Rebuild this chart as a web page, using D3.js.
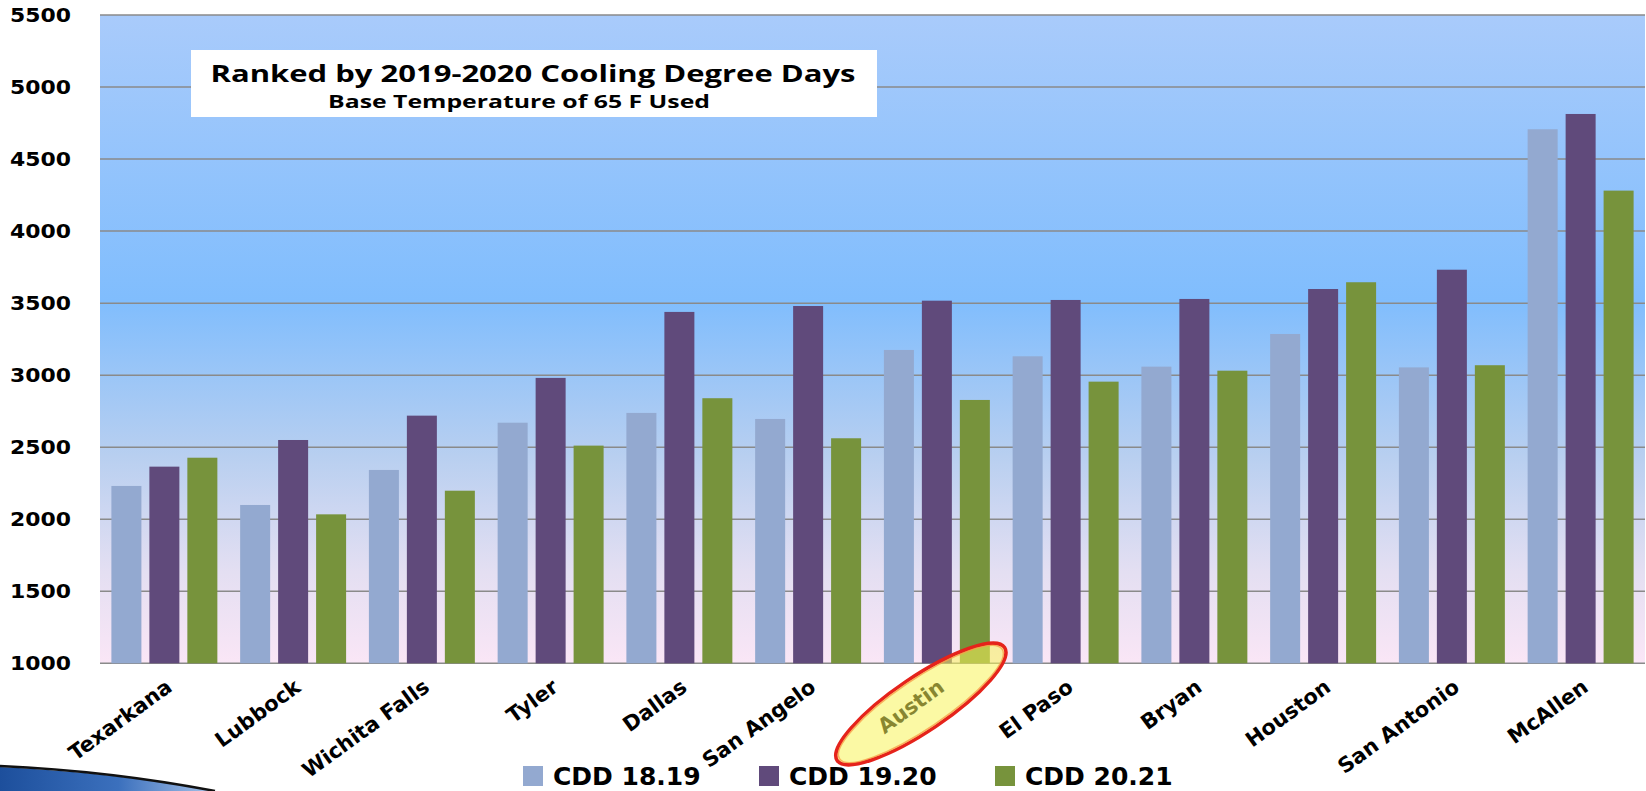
<!DOCTYPE html>
<html>
<head>
<meta charset="utf-8">
<script src="https://cdn.jsdelivr.net/npm/d3@7"></script>
<style>
  html, body { margin: 0; padding: 0; background: #ffffff; }
  svg { display: block; }
</style>
</head>
<body>
<svg id="chart" width="1646" height="791"></svg>
<script>
// ---- data ----
const categories = ["Texarkana", "Lubbock", "Wichita Falls", "Tyler", "Dallas", "San Angelo",
                    "Austin", "El Paso", "Bryan", "Houston", "San Antonio", "McAllen"];
const seriesNames = ["CDD 18.19", "CDD 19.20", "CDD 20.21"];
const cdd1819 = [2231, 2099, 2342, 2670, 2738, 2696, 3175, 3131, 3059, 3286, 3054, 4707];
const cdd1920 = [2365, 2550, 2719, 2981, 3439, 3480, 3517, 3522, 3529, 3598, 3732, 4813];
const cdd2021 = [2427, 2034, 2198, 2511, 2840, 2562, 2828, 2955, 3031, 3645, 3069, 4281];
const yTicks = [1000, 1500, 2000, 2500, 3000, 3500, 4000, 4500, 5000, 5500];
const titleText = "Ranked by 2019-2020 Cooling Degree Days";
const subtitleText = "Base Temperature of 65 F Used";
const highlighted = "Austin";

const seriesValues = [cdd1819, cdd1920, cdd2021];
const colors = ["#93a9d0", "#604a7b", "#77933c"];

// ---- layout ----
const svg = d3.select("#chart");
const plot = { left: 100, right: 1645, top: 15, bottom: 663.3 };

const x0 = d3.scaleBand().domain(categories)
  .range([plot.left, plot.right]).paddingInner(0.177).paddingOuter(0.0885);
const x1 = d3.scaleBand().domain(seriesNames)
  .range([0, x0.bandwidth()]).paddingInner(0.21).paddingOuter(0);
const y = d3.scaleLinear().domain([1000, 5500]).range([plot.bottom, plot.top]);

const defs = svg.append("defs");
const bg = defs.append("linearGradient").attr("id", "bg").attr("x1", 0).attr("y1", 0).attr("x2", 0).attr("y2", 1);
[["0%", "#a9cbfb"], ["44%", "#80bdfd"], ["68%", "#b8cff0"], ["86%", "#e4dff2"], ["100%", "#fae6f6"]]
  .forEach(([o, c]) => bg.append("stop").attr("offset", o).attr("stop-color", c));

const sw = defs.append("linearGradient").attr("id", "sw").attr("x1", 0).attr("y1", 0).attr("x2", 1).attr("y2", 0);
[["0%", "#1d4f9c"], ["55%", "#3b70bd"], ["100%", "#a9c4ea"]]
  .forEach(([o, c]) => sw.append("stop").attr("offset", o).attr("stop-color", c));

// plot background
svg.append("rect")
  .attr("x", plot.left).attr("y", plot.top)
  .attr("width", plot.right - plot.left).attr("height", plot.bottom - plot.top)
  .attr("fill", "url(#bg)");

// gridlines
svg.append("g").selectAll("line").data(yTicks).join("line")
  .attr("x1", plot.left).attr("x2", plot.right)
  .attr("y1", d => y(d)).attr("y2", d => y(d))
  .attr("stroke", "#8a8a8a").attr("stroke-width", 1.5);

// bars
const groups = svg.append("g").selectAll("g").data(categories).join("g")
  .attr("transform", d => `translate(${x0(d)},0)`);
groups.selectAll("rect")
  .data((c, i) => seriesNames.map((s, k) => ({ s, v: seriesValues[k][i], k })))
  .join("rect")
  .attr("x", d => x1(d.s))
  .attr("width", x1.bandwidth())
  .attr("y", d => y(d.v))
  .attr("height", d => y(1000) - y(d.v))
  .attr("fill", d => colors[d.k]);

// y axis labels
const yAxis = svg.append("g")
  .attr("transform", `translate(${plot.left},0)`)
  .call(d3.axisLeft(y).tickValues(yTicks).tickSize(0).tickPadding(29).tickFormat(d3.format("d")));
yAxis.select(".domain").remove();
yAxis.selectAll("text")
  .attr("font-family", "DejaVu Sans")
  .attr("font-weight", "bold")
  .attr("font-size", 20)
  .attr("fill", "#000")
  .attr("textLength", 61)
  .attr("lengthAdjust", "spacingAndGlyphs");

// category labels
svg.append("g").selectAll("text").data(categories).join("text")
  .attr("transform", d => `translate(${x0(d) + x0.bandwidth() / 2 + 9},690) rotate(-36)`)
  .attr("text-anchor", "end")
  .attr("font-family", "DejaVu Sans")
  .attr("font-weight", "bold")
  .attr("font-size", 21)
  .attr("fill", "#000")
  .text(d => d);

// highlight ellipse around Austin
const hx = x0(highlighted) + x0.bandwidth() / 2;
svg.append("ellipse")
  .attr("transform", `translate(${hx - 16},704) rotate(-34)`)
  .attr("rx", 101).attr("ry", 27)
  .attr("fill", "#f8f45a").attr("fill-opacity", 0.55)
  .attr("stroke", "#e5231b").attr("stroke-width", 3.5);
svg.append("ellipse")
  .attr("transform", `translate(${hx - 16},704) rotate(-34)`)
  .attr("rx", 98).attr("ry", 24.5)
  .attr("fill", "none")
  .attr("stroke", "#f7a04a").attr("stroke-width", 1.5).attr("stroke-opacity", 0.8);

// title box
svg.append("rect")
  .attr("x", 191).attr("y", 50).attr("width", 686).attr("height", 67)
  .attr("fill", "#ffffff");
svg.append("text")
  .attr("x", 533).attr("y", 82)
  .attr("text-anchor", "middle")
  .attr("font-family", "Open Sans")
  .attr("font-weight", "bold")
  .attr("font-size", 23)
  .attr("fill", "#000")
  .attr("textLength", 645)
  .attr("lengthAdjust", "spacingAndGlyphs")
  .text(titleText);
svg.append("text")
  .attr("x", 519).attr("y", 108)
  .attr("text-anchor", "middle")
  .attr("font-family", "Open Sans")
  .attr("font-weight", "bold")
  .attr("font-size", 17)
  .attr("fill", "#000")
  .attr("textLength", 382)
  .attr("lengthAdjust", "spacingAndGlyphs")
  .text(subtitleText);

// legend
const legend = svg.append("g").selectAll("g").data(seriesNames).join("g")
  .attr("transform", (d, i) => `translate(${523 + i * 236},766)`);
legend.append("rect")
  .attr("width", 20).attr("height", 20)
  .attr("fill", (d, i) => colors[i]);
legend.append("text")
  .attr("x", 30).attr("y", 19)
  .attr("font-family", "DejaVu Sans")
  .attr("font-weight", "bold")
  .attr("font-size", 25)
  .attr("fill", "#000")
  .text(d => d);

// slide decoration (bottom-left swoosh)
svg.append("path")
  .attr("d", "M0,767 Q110,772 215,791 L0,791 Z")
  .attr("fill", "url(#sw)");
svg.append("path")
  .attr("d", "M0,766 Q110,771 215,791")
  .attr("fill", "none").attr("stroke", "#111").attr("stroke-width", 2.5);
</script>
</body>
</html>
